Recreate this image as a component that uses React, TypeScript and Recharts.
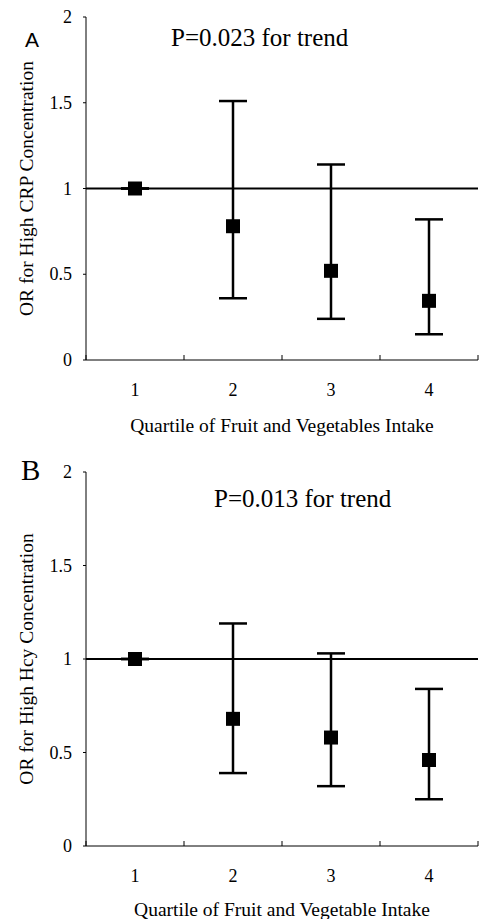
import React from "react";
import {
  ScatterChart,
  Scatter,
  XAxis,
  YAxis,
  ZAxis,
  ErrorBar,
  ReferenceLine,
  Label,
} from "recharts";

// Quartile categories
const quartiles = [1, 2, 3, 4];
const yTicks = [0, 0.5, 1, 1.5, 2];
const xTickValues = [0.5, 1, 1.5, 2, 2.5, 3, 3.5, 4, 4.5];

// Panel A: CRP
const orCRP = [1, 0.78, 0.52, 0.345];
const loCRP = [1, 0.36, 0.24, 0.15];
const hiCRP = [1, 1.51, 1.14, 0.82];

// Panel B: Hcy
const orHcy = [1, 0.68, 0.58, 0.46];
const loHcy = [1, 0.39, 0.32, 0.25];
const hiHcy = [1, 1.19, 1.03, 0.84];

const SERIF = "'Liberation Serif', 'DejaVu Serif', serif";
const SANS = "'Liberation Sans', Arial, sans-serif";

function build(or: number[], lo: number[], hi: number[]) {
  return quartiles.map((q, i) => ({
    q,
    or: or[i],
    err: [or[i] - lo[i], hi[i] - or[i]],
  }));
}

const XTick = (props: any) => {
  const { x, y, payload } = props;
  const v = payload.value;
  if (Number.isInteger(v)) {
    return (
      <text
        x={x}
        y={y + 36}
        textAnchor="middle"
        fontFamily={SERIF}
        fontSize={18}
        fill="#000"
      >
        {v}
      </text>
    );
  }
  return <line x1={x} x2={x} y1={y} y2={y - 5} stroke="#000" strokeWidth={1} />;
};

const YTick = (props: any) => {
  const { y, payload } = props;
  return (
    <text
      x={72}
      y={y + 6}
      textAnchor="end"
      fontFamily={SERIF}
      fontSize={18}
      fill="#000"
    >
      {String(payload.value)}
    </text>
  );
};

type PanelProps = {
  data: { q: number; or: number; err: number[] }[];
  height: number;
  plotHeight: number;
  yLabel: string;
  xLabel: string;
  xLabelBottom: number;
};

function Panel({ data, height, plotHeight, yLabel, xLabel, xLabelBottom }: PanelProps) {
  return (
    <ScatterChart
      width={479}
      height={height}
      margin={{ top: 17, right: 1, left: 0, bottom: 0 }}
    >
      <XAxis
        type="number"
        dataKey="q"
        domain={[0.5, 4.5]}
        ticks={xTickValues}
        interval={0}
        tickLine={false}
        tickSize={0}
        tickMargin={0}
        tick={<XTick />}
        axisLine={{ stroke: "#000", strokeWidth: 1 }}
        height={height - 17 - plotHeight}
        allowDataOverflow
      >
        <Label
          value={xLabel}
          position="insideBottom"
          offset={xLabelBottom}
          style={{ fontFamily: SERIF, fontSize: 19.5, fill: "#000" }}
        />
      </XAxis>
      <YAxis
        type="number"
        dataKey="or"
        domain={[0, 2]}
        ticks={yTicks}
        interval={0}
        width={86}
        tickSize={3}
        tick={<YTick />}
        tickLine={{ stroke: "#000" }}
        axisLine={{ stroke: "#000", strokeWidth: 1 }}
        allowDataOverflow
      >
        <Label
          value={yLabel}
          angle={-90}
          position="insideLeft"
          offset={26}
          style={{
            fontFamily: SERIF,
            fontSize: 19.5,
            fill: "#000",
            textAnchor: "middle",
          }}
        />
      </YAxis>
      <ZAxis range={[196, 196]} />
      <ReferenceLine y={1} stroke="#000" strokeWidth={2} ifOverflow="extendDomain" />
      <Scatter
        data={data}
        dataKey="or"
        fill="#000"
        shape="square"
        isAnimationActive={false}
      >
        <ErrorBar
          dataKey="err"
          direction="y"
          width={14}
          stroke="#000"
          strokeWidth={2.5}
          isAnimationActive={false}
        />
      </Scatter>
    </ScatterChart>
  );
}

const abs = (left: number, top: number, extra: React.CSSProperties = {}) =>
  ({
    position: "absolute",
    left,
    top,
    whiteSpace: "nowrap",
    lineHeight: 1,
    color: "#000",
    ...extra,
  }) as React.CSSProperties;

export default function App() {
  const dataA = build(orCRP, loCRP, hiCRP);
  const dataB = build(orHcy, loHcy, hiHcy);
  return (
    <div
      style={{
        position: "absolute",
        left: 0,
        top: 0,
        width: 479,
        height: 919,
        background: "#fff",
        overflow: "hidden",
      }}
    >
      <div style={{ position: "absolute", left: 0, top: 0 }}>
        <Panel
          data={dataA}
          height={445}
          plotHeight={343}
          yLabel="OR for High CRP Concentration"
          xLabel="Quartile of Fruit and Vegetables Intake"
          xLabelBottom={13}
        />
      </div>
      <div style={{ position: "absolute", left: 0, top: 455 }}>
        <Panel
          data={dataB}
          height={464}
          plotHeight={374}
          yLabel="OR for High Hcy Concentration"
          xLabel="Quartile of Fruit and Vegetable Intake"
          xLabelBottom={3}
        />
      </div>
      <div style={abs(25, 29, { fontFamily: SANS, fontSize: 21 })}>A</div>
      <div style={abs(171, 25, { fontFamily: SERIF, fontSize: 25 })}>
        P=0.023 for trend
      </div>
      <div style={abs(21, 456, { fontFamily: SERIF, fontSize: 29 })}>B</div>
      <div style={abs(214, 486, { fontFamily: SERIF, fontSize: 25 })}>
        P=0.013 for trend
      </div>
    </div>
  );
}
